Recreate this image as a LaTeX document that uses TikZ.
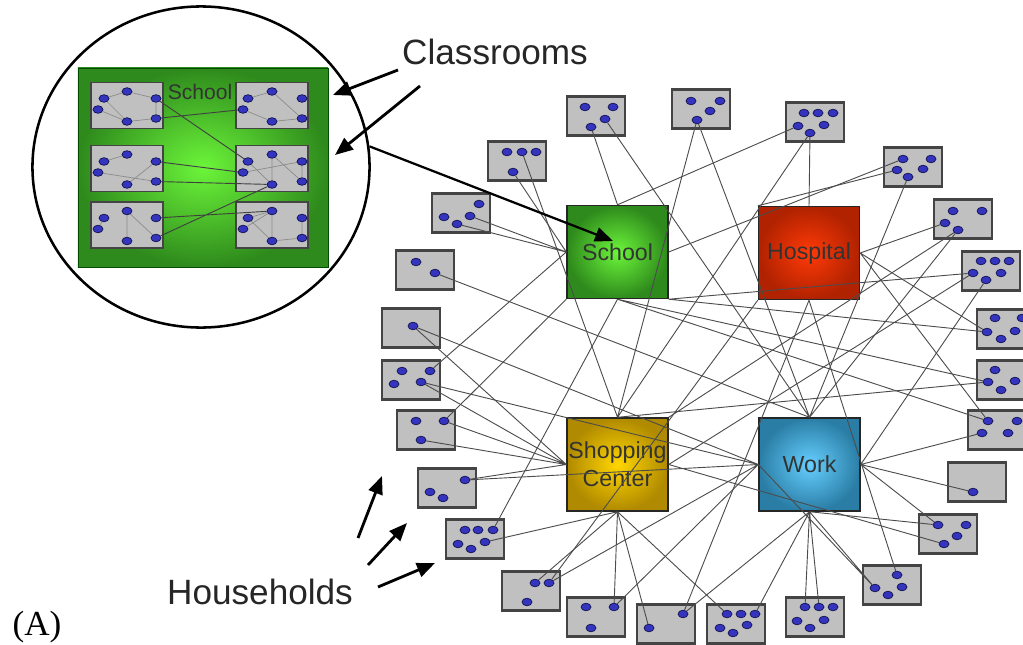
\documentclass[tikz,border=0pt]{standalone}
\usepackage{fontspec}
\setmainfont{Liberation Serif}
\newfontfamily\arial{Liberation Sans}
\usetikzlibrary{shapes.geometric,arrows.meta,calc}

\definecolor{boxgray}{HTML}{C0C0C0}
\definecolor{boxline}{HTML}{444444}
\definecolor{dotblue}{HTML}{3434BE}
\definecolor{dotline}{HTML}{121250}
\definecolor{schoolin}{HTML}{6CF53A}
\definecolor{schoolout}{HTML}{2E8A1C}
\definecolor{hospin}{HTML}{FF3A08}
\definecolor{hospout}{HTML}{B02200}
\definecolor{shopin}{HTML}{FFD600}
\definecolor{shopout}{HTML}{B08A00}
\definecolor{workin}{HTML}{66CFFF}
\definecolor{workout}{HTML}{2A7EA6}

\tikzset{
  house/.style={draw=boxline, line width=1.5pt, fill=boxgray, minimum width=1.45cm,
    minimum height=0.975cm, inner sep=0},
  room/.style={house, line width=1pt, minimum width=1.8cm, minimum height=1.15cm},
  pers/.style={ellipse, draw=dotline, fill=dotblue, line width=0.5pt, minimum width=0.25cm,
    minimum height=0.19cm, inner sep=0},
  hub/.style={draw=black!85, line width=1pt, minimum width=2.525cm, minimum height=2.325cm,
    inner sep=0pt, font=\arial\fontsize{16.5}{20}\selectfont, text=black!80, align=center},
  link/.style={draw=black!70, line width=0.65pt},
  roomlink/.style={draw=black!45, line width=0.5pt},
  callout/.style={-{Triangle[length=0.45cm,width=0.36cm]}, line width=2pt},
  label/.style={font=\arial\fontsize{25}{30}\selectfont, text=black!85},
}

\newcommand{\placebox}[4]{%
  \node[#1] (#2) at (#3) {};
  \foreach \dx/\dy [count=\i] in {#4}
    \node[pers] (#2-\i) at ($(#2)+(\dx,\dy)$) {};
}

\begin{document}
\begin{tikzpicture}[x=0.025cm, y=-0.025cm]
    \useasboundingbox (0,0) rectangle (1023,644);

    \node[ellipse, draw, line width=1.8pt, minimum width=8.425cm, minimum height=8.025cm] (zoom) at (201,167) {};
    \node[draw=green!30!black, line width=0.6pt, inner color=schoolin, outer color=schoolout,
        minimum width=6.25cm, minimum height=4.975cm] (inschool) at (203,167.5) {};
    \node[font=\arial\fontsize{15}{18}\selectfont, text=black!80] (inlabel) at (200,92) {School};

    \placebox{room}{c1}{127,105.5}{-23/-7,0/-14,29/-7,-29/4,0/16,29/13}
    \placebox{room}{c2}{272,105.5}{-24/-7,0/-14,30/-7,-29/4,0/16,30/13}
    \placebox{room}{c3}{127,168.5}{-23/-7,0/-14,29/-7,-29/4,0/16,29/13}
    \placebox{room}{c4}{272,168.5}{-24/-7,0/-14,30/-7,-29/4,0/16,30/13}
    \placebox{room}{c5}{127,225}{-23/-7,0/-14,29/-7,-29/4,0/16,29/13}
    \placebox{room}{c6}{272,225}{-24/-7,0/-14,30/-7,-29/4,0/16,30/13}

    \draw[roomlink] (c1-1) -- (c1-2) -- (c1-3) -- (c1-6) -- (c1-5) -- (c1-4) (c1-1) -- (c1-5)
        (c2-1) -- (c2-2) -- (c2-6) -- (c2-5) -- (c2-4)
        (c3-1) -- (c3-2) (c3-3) -- (c3-5) (c3-4) -- (c3-6)
        (c4-1) -- (c4-5) -- (c4-2) -- (c4-6) -- (c4-3) (c4-4) -- (c4-3)
        (c5-1) -- (c5-4) (c5-2) -- (c5-5) (c5-2) -- (c5-6)
        (c6-1) -- (c6-2) -- (c6-5) -- (c6-6) -- (c6-3) (c6-1) -- (c6-5) (c6-4) -- (c6-2);
    \draw[link, draw=black!75] (c1-3) -- (c4-1) (c1-6) -- (c2-4) (c3-3) -- (c4-4) (c3-6) -- (c4-5)
        (c5-3) -- (c6-2) (c5-6) -- (c4-5);

    \placebox{house}{h1}{517,161}{-10/-9,5/-9,19/-9,-4/11}
    \placebox{house}{h2}{596,116}{-11/-9,17/-9,9/3,-5/11}
    \placebox{house}{h3}{701,109}{-10/-8,19/-8,9/2,-4/11}
    \placebox{house}{h4}{815,122}{-11/-9,3/-9,18/-9,-17/4,-5/11,9/3}
    \placebox{house}{h5}{913,167}{-10/-8,18/-8,-16/3,10/2,-5/10}
    \placebox{house}{h6}{963,219}{-10/-8,19/-8,-18/4,-5/11}
    \placebox{house}{h7}{991,271}{-10/-10,4/-10,18/-10,-18/2,-5/9,10/2}
    \placebox{house}{h8}{1006,329}{-11/-11,16/-11,-19/3,-5/10,9/2}
    \placebox{house}{h9}{1006,380}{-11/-10,-18/2,-5/10,9/1}
    \placebox{house}{h10}{997,430}{-9/-9,20/-9,-15/3,11/3}
    \placebox{house}{h11}{977,482}{-4/10}
    \placebox{house}{h12}{948,534}{-10/-9,18/-9,9/2,-4/10}
    \placebox{house}{h13}{892,585}{5/-10,-17/3,10/2,-4/10}
    \placebox{house}{h14}{815,617}{-10/-10,4/-10,18/-10,-18/4,-5/11,9/3}
    \placebox{house}{h15}{736,624}{-9/-10,5/-10,19/-10,-16/4,-3/9,11/1}
    \placebox{house}{h16}{666,624}{17/-10,-17/4}
    \placebox{house}{h17}{596,617}{-10/-10,18/-10,-5/11}
    \placebox{house}{h18}{531,591}{4/-8,18/-8,-4/11}
    \placebox{house}{h19}{475,539}{-10/-9,3/-9,18/-9,-17/5,-4/10,10/3}
    \placebox{house}{h20}{447,488}{18/-8,-17/4,-4/10}
    \placebox{house}{h21}{426,430}{-10/-9,18/-9,-5/10}
    \placebox{house}{h22}{411,380}{-9/-9,19/-9,-17/4,10/2}
    \placebox{house}{h23}{411,328}{2/-2}
    \placebox{house}{h24}{425,270}{-9/-8,10/3}
    \placebox{house}{h25}{461,213}{18/-9,-17/4,-4/11,9/3}

    \node[hub, inner color=schoolin, outer color=schoolout] (school) at (617.5,252) {School};
    \node[hub, inner color=hospin, outer color=hospout] (hosp) at (809,253) {Hospital};
    \node[hub, inner color=shopin, outer color=shopout] (shop) at (617.5,464.5) {Shopping\\Center};
    \node[hub, inner color=workin, outer color=workout] (work) at (809.5,464.5) {Work};

    \draw[link] (h2-4) -- (school.north) (h4-4) -- (school.north) (h5-1) -- (school.east)
        (h7-4) -- (school.south east) (h8-3) -- (school.south east) (h9-2) -- (school.south)
        (h10-1) -- (school.south) (h19-3) -- (school.south) (h21-2) -- (school.south west)
        (h22-2) -- (school.west) (h25-4) -- (school.west) (h25-3) -- (school.west)
        (h1-4) -- (school.west);
    \draw[link] (h4-5) -- (hosp.north) (h5-3) -- (hosp.north west) (h6-3) -- (hosp.east)
        (h8-3) -- (hosp.east) (h10-1) -- (hosp.east) (h13-1) -- (hosp.south)
        (h16-1) -- (hosp.south) (h18-2) -- (hosp.south west);
    \draw[link] (h1-2) -- (shop.north) (h3-4) -- (shop.north) (h4-5) -- (shop.north)
        (h9-2) -- (shop.north) (h6-4) -- (shop.north east) (h7-4) -- (shop.east)
        (h12-4) -- (shop.east) (h23-1) -- (shop.west) (h22-4) -- (shop.west)
        (h21-2) -- (shop.west) (h21-3) -- (shop.west) (h20-1) -- (shop.west)
        (h19-6) -- (shop.south) (h18-1) -- (shop.south) (h17-2) -- (shop.south)
        (h16-2) -- (shop.south) (h15-1) -- (shop.south);
    \draw[link] (h2-3) -- (work.north) (h3-4) -- (work.north) (h5-5) -- (work.north)
        (h6-4) -- (work.north) (h24-2) -- (work.north) (h23-1) -- (work.west)
        (h22-4) -- (work.west) (h20-1) -- (work.west) (h18-2) -- (work.west)
        (h17-2) -- (work.west) (h13-2) -- (work.west) (h16-1) -- (work.south)
        (h15-3) -- (work.south) (h14-1) -- (work.south) (h14-2) -- (work.south)
        (h13-2) -- (work.south) (h12-1) -- (work.south) (h12-1) -- (work.east)
        (h11-1) -- (work.east) (h10-3) -- (work.east) (h7-5) -- (work.east);

    \coordinate (schooltip) at (613,241);
    \coordinate (clsa) at (398,70);
    \coordinate (clsb) at (420,86);
    \coordinate (clsa tip) at (333,95);
    \coordinate (clsb tip) at (335,155);
    \draw[callout, line width=1.6pt] (zoom.7) -- (schooltip);
    \draw[callout] (clsa) -- (clsa tip);
    \draw[callout] (clsb) -- (clsb tip);

    \coordinate (hha) at (358,538);
    \coordinate (hhb) at (368,565);
    \coordinate (hhc) at (378,587);
    \coordinate (hha tip) at (382,476);
    \coordinate (hhb tip) at (407,523);
    \coordinate (hhc tip) at (435,563);
    \draw[callout] (hha) -- (hha tip);
    \draw[callout] (hhb) -- (hhb tip);
    \draw[callout] (hhc) -- (hhc tip);

    \node[label] (classrooms) at (495,52) {Classrooms};
    \node[label] (households) at (260,592) {Households};
    \node[font=\fontsize{25}{30}\selectfont] (tag) at (37,627) {(A)};
\end{tikzpicture}
\end{document}
